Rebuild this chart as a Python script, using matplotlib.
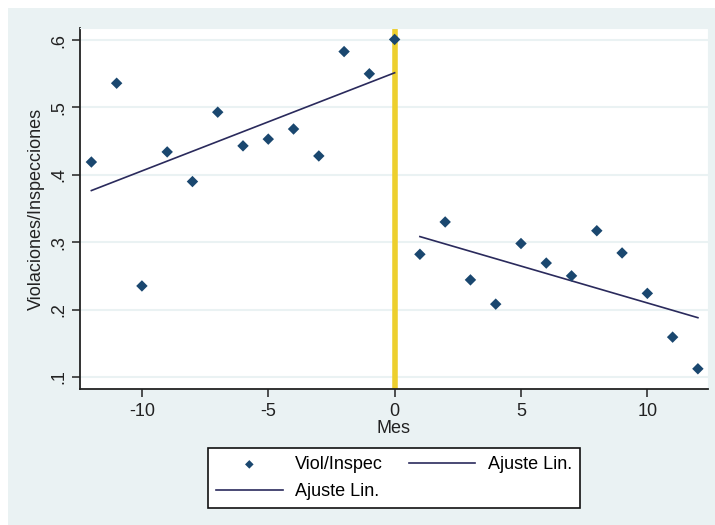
import numpy as np
import matplotlib.pyplot as plt
from matplotlib.patches import Rectangle

# Monthly violations / inspections ratio around the policy change (month 0)
mes_antes = [-12, -11, -10, -9, -8, -7, -6, -5, -4, -3, -2, -1, 0]
ratio_antes = [0.419, 0.536, 0.235, 0.434, 0.390, 0.493, 0.443, 0.453,
               0.468, 0.428, 0.583, 0.550, 0.601]
mes_despues = [1, 2, 3, 4, 5, 6, 7, 8, 9, 10, 11, 12]
ratio_despues = [0.282, 0.330, 0.244, 0.208, 0.298, 0.269, 0.250, 0.317,
                 0.284, 0.224, 0.159, 0.112]

y_ticks = [0.1, 0.2, 0.3, 0.4, 0.5, 0.6]
y_tick_labels = [".1", ".2", ".3", ".4", ".5", ".6"]
x_ticks = [-10, -5, 0, 5, 10]

bg = "#EAF2F3"
navy = "#1A476F"
fit_color = "#2A2A5C"

plt.rcParams['font.family'] = ['Liberation Sans', 'DejaVu Sans']
plt.rcParams['font.size'] = 13
plt.rcParams['axes.unicode_minus'] = False

fig = plt.figure(figsize=(7.15, 5.25), dpi=100, facecolor="white")
# outer graph region (Stata s2color style)
fig.patches.append(Rectangle((8 / 715, 0), 1, 1 - 8 / 525, transform=fig.transFigure,
                             facecolor=bg, edgecolor="none", zorder=-10))

ax = fig.add_axes([80 / 715, 1 - 389 / 525, 628 / 715, 361 / 525])
ax.set_facecolor("white")

# linear fits on each side of the cutoff
x_a = np.array(mes_antes)
x_d = np.array(mes_despues)
fit_a = np.polyfit(x_a, ratio_antes, 1)
fit_d = np.polyfit(x_d, ratio_despues, 1)

ax.axvline(0, color="#EDCF2E", lw=4, zorder=2)
sc = ax.scatter(mes_antes + mes_despues, ratio_antes + ratio_despues, marker="D",
                s=34, color=navy, edgecolors="none", zorder=4, label="Viol/Inspec")
ln1, = ax.plot(x_a[[0, -1]], np.polyval(fit_a, x_a[[0, -1]]), color=fit_color,
               lw=1.2, zorder=3, label="Ajuste Lin.")
ln2, = ax.plot(x_d[[0, -1]], np.polyval(fit_d, x_d[[0, -1]]), color=fit_color,
               lw=1.2, zorder=3, label="Ajuste Lin.")

ax.set_xlim(-12.45, 12.4)
ax.set_ylim(0.082, 0.618)
ax.set_xticks(x_ticks)
ax.set_yticks(y_ticks)
ax.set_yticklabels(y_tick_labels, rotation=90, va="center")
ax.grid(axis="y", color=bg, lw=1.5, zorder=0)
ax.set_axisbelow(True)

for side in ["top", "right"]:
    ax.spines[side].set_color(bg)
for side in ["left", "bottom"]:
    ax.spines[side].set_color("#222222")
    ax.spines[side].set_linewidth(1.3)
ax.tick_params(axis="both", length=6, width=1.1, color="#222222", labelcolor="#222222")
ax.tick_params(axis="y", pad=3)
ax.tick_params(axis="x", pad=4)

ax.set_xlabel("Mes", labelpad=0, color="#222222")
ax.set_ylabel("Violaciones/Inspecciones", labelpad=4, color="#222222")

leg = fig.legend(handles=[sc, ln1, ln2], ncol=2, loc="upper center",
                 bbox_to_anchor=(394 / 715, 1 - 448 / 525), bbox_transform=fig.transFigure,
                 frameon=True, fancybox=False, framealpha=1, edgecolor="#111111",
                 handlelength=3.7, handletextpad=0.7, columnspacing=1.4,
                 labelspacing=0.55, borderpad=0.45, borderaxespad=0,
                 scatterpoints=1, markerscale=0.75)
leg.get_frame().set_linewidth(1.2)

fig.savefig("out.png", dpi=100, facecolor="white")
